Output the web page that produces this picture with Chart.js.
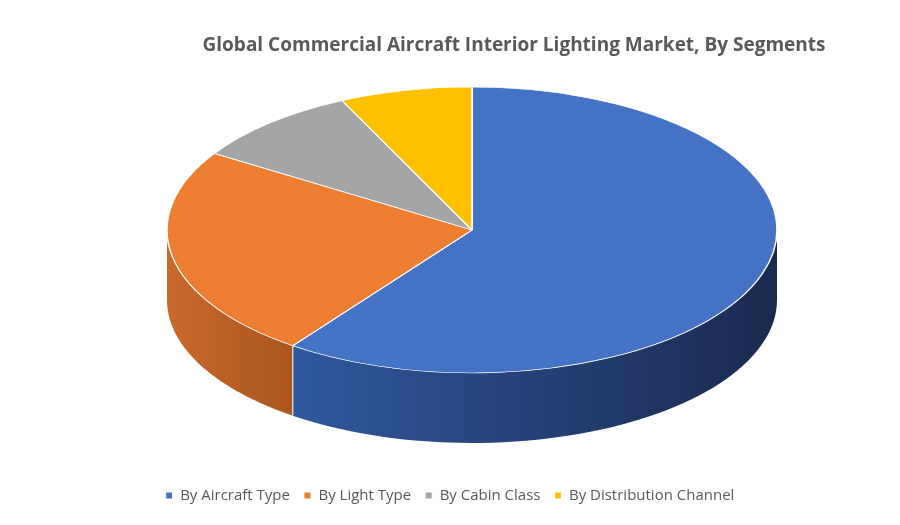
<!DOCTYPE html>
<html><head><meta charset="utf-8">
<script src="https://cdn.jsdelivr.net/npm/chart.js@4"></script>
<style>html,body{margin:0;background:#fff}#w{width:900px;height:525px}</style>
</head><body><div id="w"><canvas id="c"></canvas></div>
<script>
const categories = ["By Aircraft Type","By Light Type","By Cabin Class","By Distribution Channel"];
const values = [60, 24, 9, 7];
const colors = ["#4472c4","#ed7d31","#a5a5a5","#ffc000"];
const sideColors = [["#30589e","#1a2a4f"],["#c9692c","#a9561f"],["#8a8a8a","#6e6e6e"],["#d9a300","#b88a00"]];
const CX=472, CY=230, RX=305, RY=143, DEPTH=70;

const pie3d = {
  id:'pie3d',
  afterLayout(chart){ chart.titleBlock.left += 128; },
  beforeDatasetsDraw(chart){
    const ctx=chart.ctx, meta=chart.getDatasetMeta(0);
    meta.data.forEach((arc,i)=>{
      let s=arc.startAngle, e=arc.endAngle;
      for (const off of [-2*Math.PI,0,2*Math.PI]){
        const a0=Math.max(s+off,0), a1=Math.min(e+off,Math.PI);
        if (a1<=a0) continue;
        ctx.save();
        ctx.beginPath();
        const N=60;
        for(let k=0;k<=N;k++){const t=a0+(a1-a0)*k/N;const x=CX+RX*Math.cos(t),y=CY+RY*Math.sin(t);k?ctx.lineTo(x,y):ctx.moveTo(x,y);}
        for(let k=N;k>=0;k--){const t=a0+(a1-a0)*k/N;ctx.lineTo(CX+RX*Math.cos(t),CY+RY*Math.sin(t)+DEPTH);}
        ctx.closePath();
        const xa=CX+RX*Math.cos(a1), xb=CX+RX*Math.cos(a0);
        const g=ctx.createLinearGradient(Math.min(xa,xb),0,Math.max(xa,xb),0);
        g.addColorStop(0,sideColors[i][0]); g.addColorStop(1,sideColors[i][1]);
        ctx.fillStyle=g; ctx.fill();
        ctx.strokeStyle='rgba(255,255,255,0.8)'; ctx.lineWidth=1;
        ctx.beginPath();
        [a0,a1].forEach(t=>{ if(t>0.001&&t<Math.PI-0.001){const x=CX+RX*Math.cos(t),y=CY+RY*Math.sin(t);ctx.moveTo(x,y);ctx.lineTo(x,y+DEPTH);} });
        ctx.stroke();
        ctx.restore();
      }
    });
    const a=meta.data[0], r=a.outerRadius;
    ctx.save();
    ctx.translate(CX,CY); ctx.scale(RX/r,RY/r); ctx.translate(-a.x,-a.y);
  },
  afterDatasetsDraw(chart){ chart.ctx.restore(); }
};

new Chart(document.getElementById('c'),{
  type:'pie',
  data:{labels:categories,datasets:[{data:values,backgroundColor:colors,borderColor:'#ffffff',borderWidth:1}]},
  options:{
    responsive:true,maintainAspectRatio:false,animation:false,
    layout:{padding:{top:0,bottom:12}},
    plugins:{
      title:{display:true,text:"Global Commercial Aircraft Interior Lighting Market, By Segments",color:'#595959',font:{family:'Open Sans',size:19,weight:'bold'},padding:{top:34,bottom:20}},
      legend:{position:'bottom',labels:{color:'#595959',font:{family:'Open Sans',size:15},usePointStyle:true,pointStyle:'rect',boxWidth:7,boxHeight:7,padding:14}},
      tooltip:{enabled:false}
    }
  },
  plugins:[pie3d]
});
</script></body></html>
